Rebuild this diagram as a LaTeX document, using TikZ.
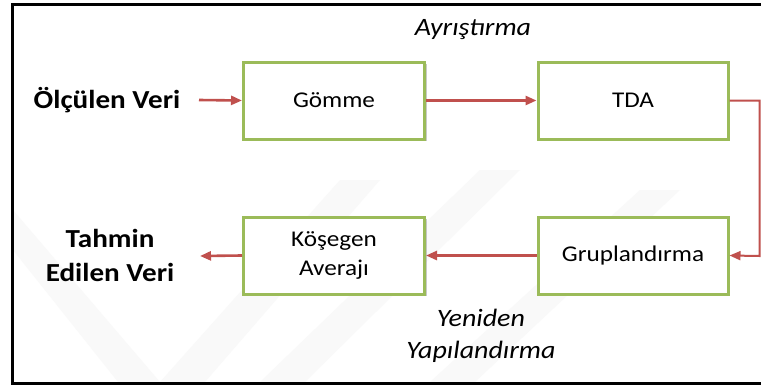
\documentclass[tikz,border=0pt]{standalone}
\usepackage{fontspec}
\setmainfont[FakeStretch=1.12]{Carlito}
\usetikzlibrary{arrows.meta,shadows}
\definecolor{boxgreen}{HTML}{9BBB59}
\definecolor{arrred}{HTML}{C0504D}
\tikzset{
  blk/.style={draw=boxgreen, line width=3pt, fill=white, minimum height=77pt, align=center, font=\fontsize{22.5}{29}\selectfont, inner sep=0pt,
    drop shadow={shadow xshift=2pt, shadow yshift=-2pt, opacity=0.35, fill=black!60}},
  lbl/.style={font=\fontsize{26}{34}\selectfont\bfseries, align=center, inner sep=0pt},
  itl/.style={font=\fontsize{25}{32}\selectfont\itshape, align=center, inner sep=0pt},
  conn/.style={draw=arrred, line width=2.6pt, -{Triangle[length=11pt,width=9pt]}},
  wm/.style={fill=black!2.5}
}
\begin{document}
\begin{tikzpicture}[x=1pt,y=-1pt]
\useasboundingbox (0,0) rectangle (761,388);
\fill[white] (0,0) rectangle (761,388);
% faint watermark
\fill[wm] (13,210) -- (13,250) -- (118,382) -- (160,382) -- cycle;
\fill[wm] (160,382) -- (340,180) -- (380,180) -- (205,382) -- cycle;
\fill[wm] (260,382) -- (480,170) -- (520,170) -- (305,382) -- cycle;
\fill[wm] (430,382) -- (640,190) -- (680,190) -- (475,382) -- cycle;
% frame
\draw[line width=3pt] (761,4) -- (12,4) -- (12,383) -- (761,383);
% blocks
\node[blk, minimum width=181pt] (gom) at (334,100.5) {Gömme};
\node[blk, minimum width=190pt] (tda) at (633,100.5) {TDA};
\node[blk, minimum width=190pt] (grp) at (633,255.5) {Gruplandırma};
\node[blk, minimum width=181pt, font=\fontsize{22.5}{29}\selectfont] (kos) at (334,255.5) {Köşegen\\Averajı};
% labels
\node[lbl] (olc) at (107,100) {Ölçülen Veri};
\node[lbl] (tah) at (110,255) {Tahmin\\Edilen Veri};
\node[itl] (ayr) at (473,30) {Ayrıştırma};
\node[itl] (yen) at (481,336) {Yeniden\\Yapılandırma};
\coordinate (in) at (199,100);
\coordinate (out) at (200,256);
\coordinate (c1) at (759.5,100.5);
\coordinate (c2) at (759.5,256);
% connectors
\draw[conn] (in) -- (gom.west);
\draw[conn] (gom.east) -- (tda.west);
\draw[conn, line width=2pt] (tda.east) -- (c1) -- (c2) -- (grp.east);
\draw[conn] (grp.west) -- (kos.east);
\draw[conn] (kos.west) -- (out);
\end{tikzpicture}
\end{document}
